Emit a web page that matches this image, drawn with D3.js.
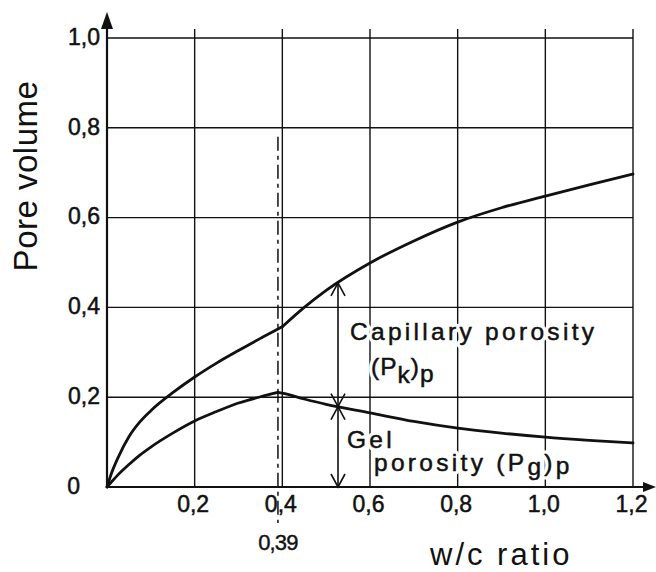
<!DOCTYPE html>
<html>
<head>
<meta charset="utf-8">
<script src="https://cdn.jsdelivr.net/npm/d3@7"></script>
<style>
  html, body { margin: 0; padding: 0; background: #fff; }
  svg { display: block; }
  text { font-family: "Liberation Sans", Arial, sans-serif; fill: #111; }
</style>
</head>
<body>
<svg id="chart" width="656" height="572"></svg>
<script>
// ---- data ----
const wc       = [0, 0.01, 0.025, 0.05, 0.075, 0.1, 0.15, 0.2, 0.25, 0.3, 0.35, 0.39, 0.4, 0.45, 0.5, 0.6, 0.7, 0.8, 0.9, 1.0, 1.1, 1.2];
const totalPor = [0, 0.03, 0.065, 0.112, 0.145, 0.17, 0.21, 0.245, 0.276, 0.304, 0.331, 0.352, 0.357, 0.40, 0.438, 0.499, 0.548, 0.59, 0.622, 0.648, 0.673, 0.697];
const gelPor   = [0, 0.011, 0.027, 0.05, 0.071, 0.089, 0.12, 0.147, 0.168, 0.187, 0.201, 0.211, 0.209, 0.196, 0.184, 0.165, 0.146, 0.131, 0.12, 0.111, 0.104, 0.098];
const totalKink = 0.4;   // change of slope of the total porosity curve
const gelKink   = 0.39;  // maximum of gel porosity
const markWc    = 0.39;  // dashed reference line
const arrowWc   = 0.527; // position of the double arrows
const xTicks = [0.2, 0.4, 0.6, 0.8, 1.0, 1.2];
const yTicks = [0, 0.2, 0.4, 0.6, 0.8, 1.0];
const xTitle = "w/c ratio";
const yTitle = "Pore volume";

const svg = d3.select("#chart");
const x = d3.scaleLinear().domain([0, 1.2]).range([107, 633]);
const y = d3.scaleLinear().domain([0, 1]).range([487, 38]);
const fmt = d => d === 0 ? "0" : d3.format(".1f")(d).replace(".", ",");
const ink = "#111";
const FONT = '"Liberation Sans", Arial, sans-serif';

// ---- grid ----
const grid = svg.append("g").attr("stroke", ink).attr("stroke-width", 1.4);
grid.selectAll("line.h").data(yTicks.filter(d => d > 0)).join("line")
  .attr("x1", x(0)).attr("x2", x(1.2))
  .attr("y1", d => y(d)).attr("y2", d => y(d));
grid.selectAll("line.v").data(xTicks).join("line")
  .attr("x1", d => x(d)).attr("x2", d => x(d))
  .attr("y1", y(1) - 9).attr("y2", y(0));

// ---- dashed line at 0.39 ----
svg.append("line")
  .attr("x1", x(markWc)).attr("x2", x(markWc))
  .attr("y1", y(0.78)).attr("y2", y(0) + 36)
  .attr("stroke", ink).attr("stroke-width", 1.5)
  .attr("stroke-dasharray", "14,5,4,5");

// ---- axes lines with arrows ----
svg.append("line").attr("x1", x(0)).attr("x2", x(0)).attr("y1", y(0)).attr("y2", 26)
  .attr("stroke", ink).attr("stroke-width", 2.2);
svg.append("path").attr("d", `M${x(0)},12 L${x(0)-6},29 L${x(0)+6},29 Z`).attr("fill", ink);
svg.append("line").attr("x1", x(0)).attr("x2", 646).attr("y1", y(0)).attr("y2", y(0))
  .attr("stroke", ink).attr("stroke-width", 2.2);
svg.append("path").attr("d", `M656,${y(0)} L643,${y(0)-5} L643,${y(0)+5} Z`).attr("fill", ink);

// ---- axis tick labels via d3 axes ----
const ax = svg.append("g").attr("transform", `translate(0,${y(0)})`)
  .call(d3.axisBottom(x).tickValues(xTicks).tickFormat(fmt).tickSize(0).tickPadding(9));
ax.select(".domain").remove();
ax.attr("font-size", 23).attr("font-family", FONT);
ax.selectAll("text").attr("fill", ink).attr("dx", -2)
  .attr("stroke", ink).attr("stroke-width", 0.5);

const ay = svg.append("g").attr("transform", `translate(${x(0)},0)`)
  .call(d3.axisLeft(y).tickValues(yTicks).tickFormat(fmt).tickSize(0).tickPadding(7));
ay.select(".domain").remove();
ay.attr("font-size", 23).attr("font-family", FONT);
ay.selectAll("text").attr("fill", ink).attr("dy", "0.27em")
  .attr("stroke", ink).attr("stroke-width", 0.5)
  .attr("x", d => d === 0 ? -27 : -7);

// ---- label 0,39 ----
svg.append("text").attr("x", x(markWc)).attr("y", 550).attr("text-anchor", "middle")
  .attr("font-size", 22).attr("letter-spacing", -0.8)
  .attr("stroke", ink).attr("stroke-width", 0.4)
  .text(d3.format(".2f")(markWc).replace(".", ","));

// ---- annotation texts (white halo breaks the grid lines) ----
function annot(layer, halo) {
  const g = layer.append("g").attr("font-size", 24.5).attr("letter-spacing", 3.3);
  if (halo) g.attr("stroke", "#fff").attr("stroke-width", 7).attr("stroke-linejoin", "round");
  else g.attr("stroke", ink).attr("stroke-width", 0.5);
  g.append("text").attr("x", 350).attr("y", 340).text("Capillary porosity");
  const t2 = g.append("text").attr("x", 371).attr("y", 375).attr("letter-spacing", 1);
  t2.append("tspan").text("(P");
  t2.append("tspan").attr("dy", 8).text("k");
  t2.append("tspan").attr("dy", -8).text(")");
  t2.append("tspan").attr("dy", 7).text("p");
  g.append("text").attr("x", 347).attr("y", 448).text("Gel");
  const t4 = g.append("text").attr("x", 374).attr("y", 471);
  t4.append("tspan").text("porosity (P");
  t4.append("tspan").attr("dy", 4).text("g");
  t4.append("tspan").attr("dy", -4).text(")");
  t4.append("tspan").attr("dy", 3).text("p");
}
annot(svg, true);
annot(svg, false);

// ---- curves ----
const line = d3.line().x(d => x(d[0])).y(d => y(d[1])).curve(d3.curveMonotoneX);
function drawSplit(vals, kink) {
  const pts = wc.map((w, i) => [w, vals[i]]);
  const a = pts.filter(p => p[0] <= kink);
  const b = pts.filter(p => p[0] >= kink);
  [a, b].forEach(seg => svg.append("path").attr("d", line(seg))
    .attr("fill", "none").attr("stroke", ink).attr("stroke-width", 2.8)
    .attr("stroke-linejoin", "round").attr("stroke-linecap", "round"));
}
drawSplit(totalPor, totalKink);
drawSplit(gelPor, gelKink);

// ---- double arrows ----
const totAt = d3.scaleLinear().domain(wc).range(totalPor);
const gelAt = d3.scaleLinear().domain(wc).range(gelPor);
const ax0 = x(arrowWc);
const yTop = y(totAt(arrowWc)), yMid = y(gelAt(arrowWc)), yBot = y(0);
const ag = svg.append("g").attr("stroke", ink).attr("stroke-width", 1.6).attr("fill", "none");
ag.append("line").attr("x1", ax0).attr("x2", ax0).attr("y1", yTop).attr("y2", yBot);
function head(tipY, dir) { // dir -1 = up, +1 = down
  ag.append("path").attr("d", `M${ax0-7},${tipY - dir*13} L${ax0},${tipY} L${ax0+7},${tipY - dir*13}`);
}
head(yTop, -1); head(yMid, 1); head(yMid, -1); head(yBot, 1);

// ---- axis titles ----
svg.append("text").attr("transform", `translate(37,176) rotate(-90)`)
  .attr("text-anchor", "middle").attr("font-size", 33).attr("letter-spacing", 0.5).text(yTitle);
svg.append("text").attr("x", 430).attr("y", 565)
  .attr("font-size", 31).attr("letter-spacing", 3).text(xTitle);
</script>
</body>
</html>
